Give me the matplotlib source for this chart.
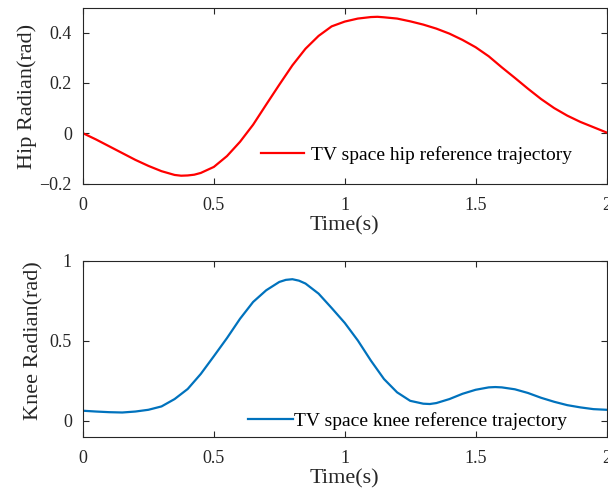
import numpy as np
import matplotlib
matplotlib.use("Agg")
import matplotlib.pyplot as plt

plt.rcParams['font.family'] = ['Liberation Serif', 'DejaVu Serif']

# Hip reference trajectory: time (s) and angle (rad)
hip_time = [0.00, 0.05, 0.10, 0.15, 0.20, 0.25, 0.30, 0.35, 0.375, 0.40, 0.425, 0.45,
            0.50, 0.55, 0.60, 0.65, 0.70, 0.75, 0.80, 0.85, 0.90, 0.95,
            1.00, 1.05, 1.10, 1.125, 1.15, 1.20, 1.25, 1.30, 1.35, 1.40, 1.45,
            1.50, 1.55, 1.60, 1.65, 1.70, 1.75, 1.80, 1.85, 1.90, 1.95, 2.00]
hip_rad = [0.000, -0.025, -0.052, -0.079, -0.106, -0.130, -0.151, -0.166, -0.169, -0.168, -0.165, -0.158,
           -0.134, -0.091, -0.034, 0.034, 0.114, 0.193, 0.270, 0.336, 0.387, 0.425,
           0.444, 0.456, 0.462, 0.463, 0.461, 0.456, 0.445, 0.432, 0.416, 0.396, 0.371,
           0.342, 0.306, 0.262, 0.220, 0.177, 0.136, 0.100, 0.070, 0.045, 0.024, 0.003]

# Knee reference trajectory: time (s) and angle (rad)
knee_time = [0.00, 0.05, 0.10, 0.15, 0.20, 0.25, 0.30, 0.35, 0.40, 0.45,
             0.50, 0.55, 0.60, 0.65, 0.70, 0.75, 0.775, 0.80, 0.825, 0.85, 0.90, 0.95,
             1.00, 1.05, 1.10, 1.15, 1.20, 1.25, 1.30, 1.325, 1.35, 1.40, 1.45,
             1.50, 1.55, 1.575, 1.60, 1.65, 1.70, 1.75, 1.80, 1.85, 1.90, 1.95, 2.00]
knee_rad = [0.061, 0.056, 0.052, 0.050, 0.056, 0.067, 0.088, 0.134, 0.197, 0.291,
            0.402, 0.515, 0.636, 0.741, 0.814, 0.866, 0.879, 0.883, 0.874, 0.856, 0.793, 0.703,
            0.610, 0.500, 0.374, 0.259, 0.176, 0.123, 0.105, 0.103, 0.109, 0.134, 0.167,
            0.192, 0.207, 0.209, 0.207, 0.195, 0.172, 0.142, 0.117, 0.096, 0.082, 0.071, 0.067]

x_ticks = [0, 0.5, 1, 1.5, 2]
x_tick_labels = ['0', '0.5', '1', '1.5', '2']
hip_ticks = [-0.2, 0, 0.2, 0.4]
hip_tick_labels = ['\u22120.2', '0', '0.2', '0.4']
knee_ticks = [0, 0.5, 1]
knee_tick_labels = ['0', '0.5', '1']

axis_color = '#262626'
tick_fs = 13
label_fs = 16
legend_fs = 14

fig = plt.figure(figsize=(6.08, 4.95), dpi=100)
ax1 = fig.add_axes([83 / 608, 1 - 183.5 / 495, 523.5 / 608, 176 / 495])
ax2 = fig.add_axes([83 / 608, 1 - 436.5 / 495, 523.5 / 608, 176 / 495])


def style_axes(ax):
    for sp in ax.spines.values():
        sp.set_color(axis_color)
        sp.set_linewidth(0.8)
    ax.tick_params(direction='in', top=True, right=True, length=4,
                   width=0.8, colors=axis_color, labelsize=tick_fs)
    ax.tick_params(axis='x', pad=10)
    ax.tick_params(axis='y', pad=8)
    ax.set_xlim(0, 2)
    ax.set_xticks(x_ticks)
    ax.set_xticklabels(x_tick_labels)
    ax.set_xlabel('Time(s)', fontsize=label_fs, color=axis_color, labelpad=1)


ax1.plot(hip_time, hip_rad, color='#FF0000', lw=1.6, solid_joinstyle='round',
         label='TV space hip reference trajectory')
style_axes(ax1)
ax1.set_ylim(-0.2, 0.5)
ax1.set_yticks(hip_ticks)
ax1.set_yticklabels(hip_tick_labels)
ax1.set_ylabel('Hip Radian(rad)', fontsize=label_fs, color=axis_color)
ax1.yaxis.set_label_coords(-0.088, 0.492)
ax1.legend(loc='lower right', bbox_to_anchor=(1 - 0.0287, 0), frameon=False,
           fontsize=legend_fs, handlelength=2.2, handletextpad=0.35,
           borderaxespad=0.6)

ax2.plot(knee_time, knee_rad, color='#0072BD', lw=1.6, solid_joinstyle='round',
         label='TV space knee reference trajectory')
style_axes(ax2)
ax2.set_ylim(-0.1, 1)
ax2.set_yticks(knee_ticks)
ax2.set_yticklabels(knee_tick_labels)
ax2.set_ylabel('Knee Radian(rad)', fontsize=label_fs, color=axis_color)
ax2.yaxis.set_label_coords(-0.076, 0.543)
ax2.legend(loc='lower right', bbox_to_anchor=(1 - 0.0573, -0.017), frameon=False,
           fontsize=legend_fs, handlelength=2.3, handletextpad=0.05,
           borderaxespad=0.1)

fig.savefig('out.png', dpi=100)
